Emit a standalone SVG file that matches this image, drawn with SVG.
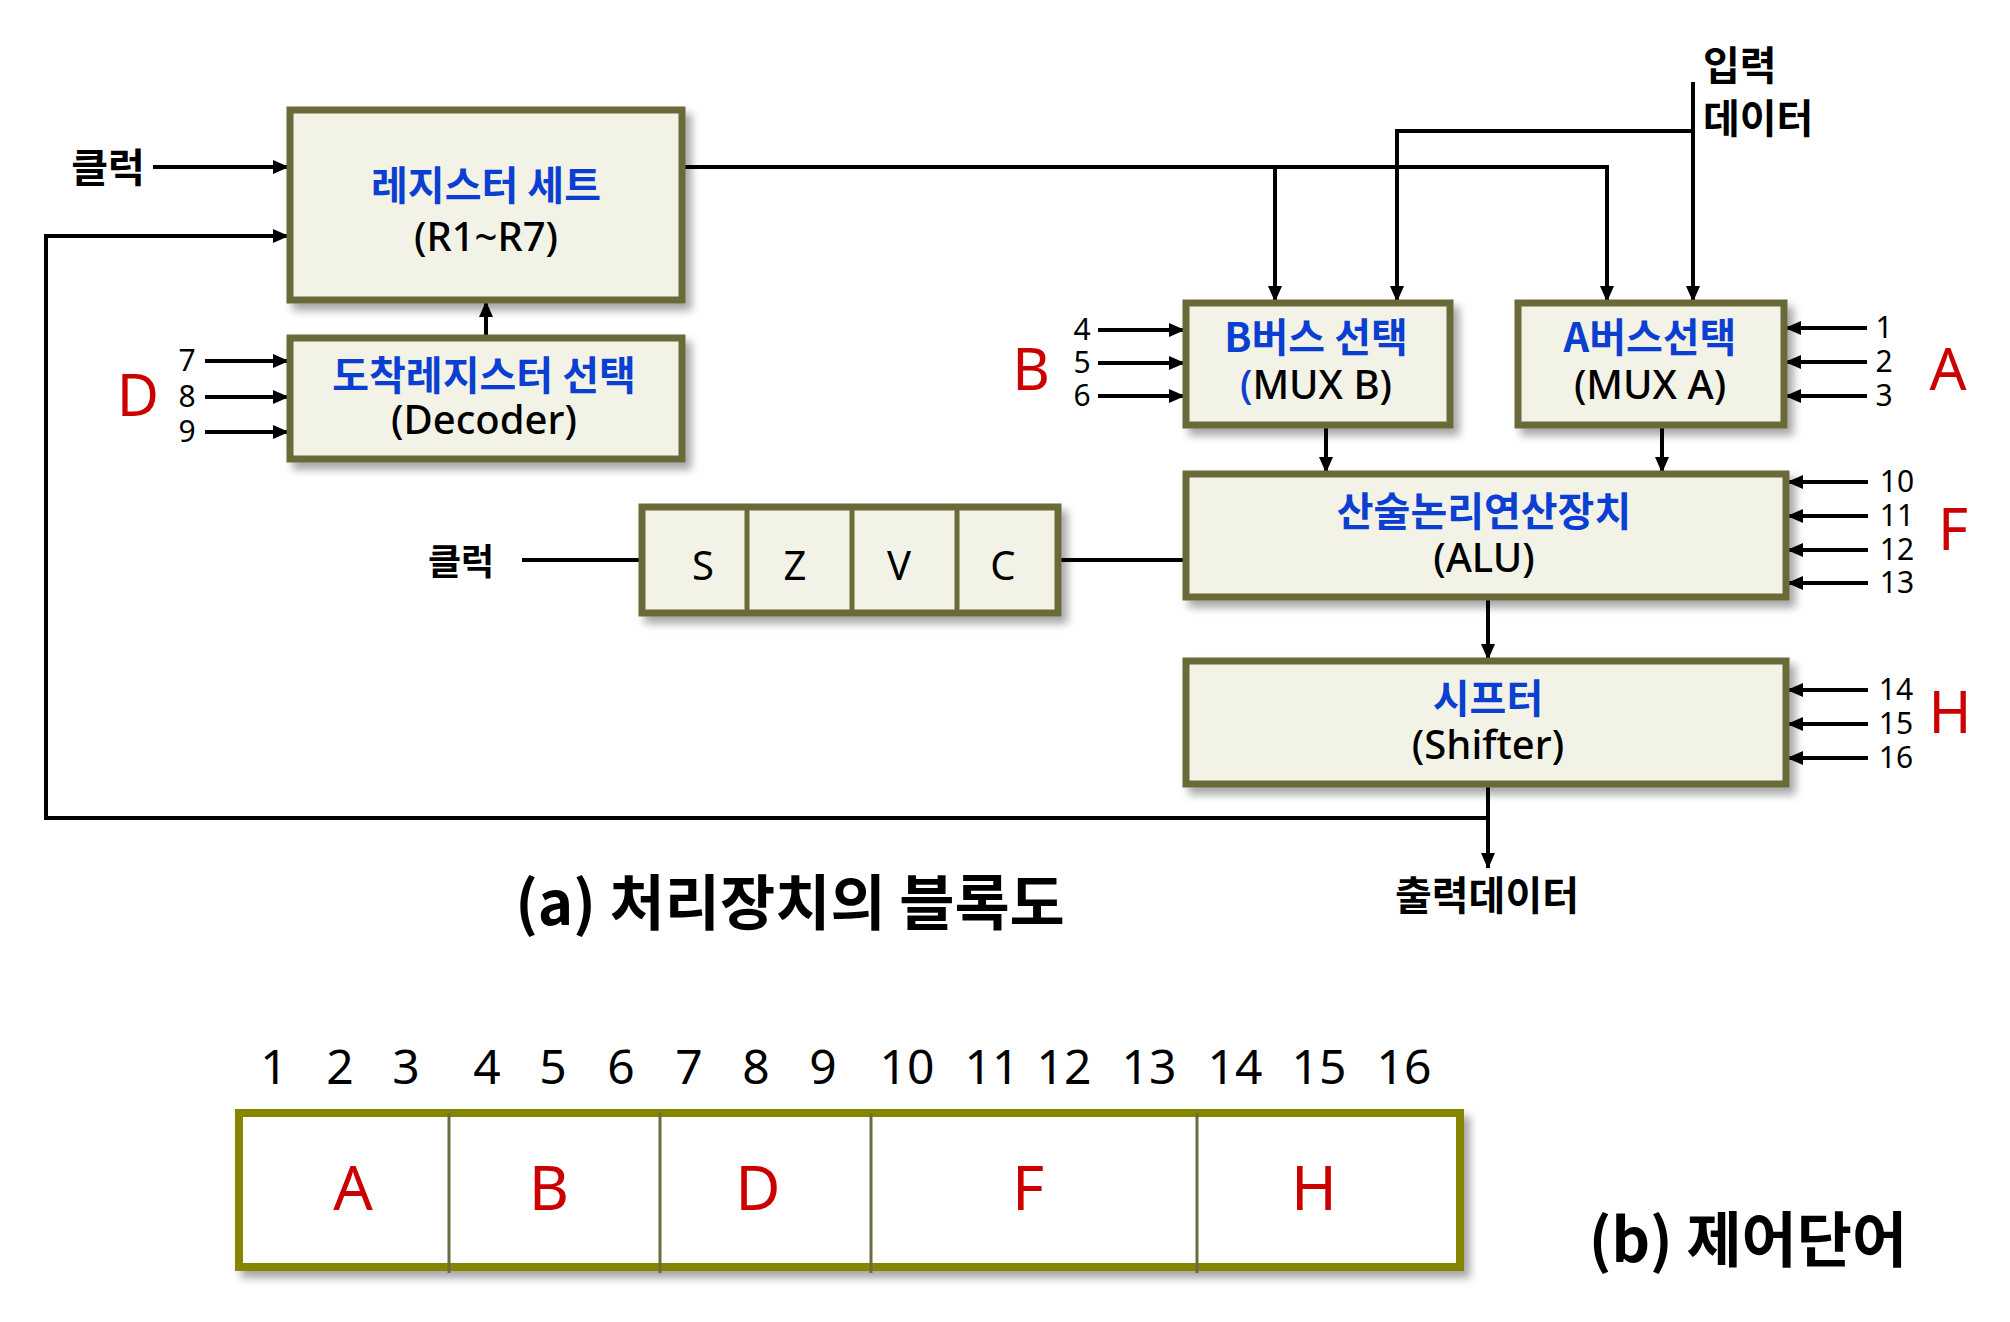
<svg xmlns="http://www.w3.org/2000/svg" width="2010" height="1322" viewBox="0 0 2010 1322">
<defs>
<style>
.box{fill:#f3f2e7;stroke:#6b6b38;stroke-width:7}
.cw{fill:#ffffff;stroke:#858500;stroke-width:8}
.div{stroke:#6b6b40;stroke-width:3}
.ln{fill:none;stroke:#000;stroke-width:4}
.arr{fill:none;stroke:#000;stroke-width:4;marker-end:url(#ah)}
text{font-family:"Noto Sans CJK KR","Noto Sans",sans-serif;text-anchor:middle}
.kt{font-size:40px;font-weight:700;fill:#0b3fd1}
.et{font-size:40px;font-weight:500;fill:#000;font-family:"Noto Sans","Noto Sans CJK KR",sans-serif}
.lb{font-size:40px;font-weight:700;fill:#000}
.num{font-size:30px;fill:#000;font-family:"Noto Sans",sans-serif}
.red{font-size:58px;fill:#cc0000;font-family:"Noto Sans",sans-serif}
.flag{font-size:40px;fill:#000;font-family:"Noto Sans",sans-serif}
.cap{font-size:60px;font-weight:700;fill:#000}
.cnum{font-size:48px;fill:#000;font-family:"Noto Sans",sans-serif}
.cred{font-size:62px;fill:#cc0000;font-family:"Noto Sans",sans-serif}
</style>
<marker id="ah" markerUnits="userSpaceOnUse" markerWidth="16" markerHeight="14" refX="15" refY="7" orient="auto">
<path d="M0,0 L16,7 L0,14 z" fill="#000"/>
</marker>
<filter id="sh" x="-10%" y="-10%" width="130%" height="140%">
<feDropShadow dx="6" dy="7" stdDeviation="4" flood-color="#000" flood-opacity="0.35"/>
</filter>
</defs>

<g id="connectors">
<path class="arr" d="M153,167 H288"/>
<path class="ln" d="M46,818 V236"/>
<path class="arr" d="M44,236 H288"/>
<path class="ln" d="M44,818 H1490"/>
<path class="arr" d="M486,336 V302"/>
<path class="arr" d="M205,361 H288"/>
<path class="arr" d="M205,397 H288"/>
<path class="arr" d="M205,432 H288"/>
<path class="ln" d="M684,167 H1607"/>
<path class="arr" d="M1607,165 V301"/>
<path class="arr" d="M1275,167 V301"/>
<path class="arr" d="M1693,82 V301"/>
<path class="ln" d="M1693,131 H1397"/>
<path class="arr" d="M1397,129 V301"/>
<path class="arr" d="M1098,330 H1184"/>
<path class="arr" d="M1098,363 H1184"/>
<path class="arr" d="M1098,396 H1184"/>
<path class="arr" d="M1867,328 H1786"/>
<path class="arr" d="M1867,362 H1786"/>
<path class="arr" d="M1867,396 H1786"/>
<path class="arr" d="M1326,427 V472"/>
<path class="arr" d="M1662,427 V472"/>
<path class="arr" d="M1868,482 H1788"/>
<path class="arr" d="M1868,516 H1788"/>
<path class="arr" d="M1868,550 H1788"/>
<path class="arr" d="M1868,583 H1788"/>
<path class="ln" d="M522,560 H642"/>
<path class="ln" d="M1058,560 H1186"/>
<path class="arr" d="M1488,599 V659"/>
<path class="arr" d="M1868,690 H1788"/>
<path class="arr" d="M1868,724 H1788"/>
<path class="arr" d="M1868,758 H1788"/>
<path class="arr" d="M1488,786 V868"/>
</g>

<g id="register-set">
<rect class="box" x="290" y="110" width="392" height="190" filter="url(#sh)"/>
<text class="kt" x="486" y="200">레지스터 세트</text>
<text class="et" x="486" y="251">(R1~R7)</text>
</g>

<g id="decoder">
<rect class="box" x="290" y="338" width="392" height="121" filter="url(#sh)"/>
<text class="kt" x="484" y="390">도착레지스터 선택</text>
<text class="et" x="484" y="434">(Decoder)</text>
</g>

<g id="mux-b">
<rect class="box" x="1186" y="303" width="264" height="122" filter="url(#sh)"/>
<text class="kt" x="1316" y="352">B버스 선택</text>
<text class="et" x="1316" y="399"><tspan fill="#0b3fd1">(</tspan>MUX B)</text>
</g>

<g id="mux-a">
<rect class="box" x="1518" y="303" width="266" height="122" filter="url(#sh)"/>
<text class="kt" x="1650" y="352">A버스선택</text>
<text class="et" x="1650" y="399">(MUX A)</text>
</g>

<g id="alu">
<rect class="box" x="1186" y="474" width="600" height="123" filter="url(#sh)"/>
<text class="kt" x="1484" y="526">산술논리연산장치</text>
<text class="et" x="1484" y="572">(ALU)</text>
</g>

<g id="shifter">
<rect class="box" x="1186" y="661" width="600" height="123" filter="url(#sh)"/>
<text class="kt" x="1488" y="713">시프터</text>
<text class="et" x="1488" y="759">(Shifter)</text>
</g>

<g id="flags">
<rect class="box" x="642" y="507" width="416" height="106" filter="url(#sh)"/>
<line class="box" x1="747" y1="510" x2="747" y2="610" style="stroke-width:5"/>
<line class="box" x1="852" y1="510" x2="852" y2="610" style="stroke-width:5"/>
<line class="box" x1="957" y1="510" x2="957" y2="610" style="stroke-width:5"/>
<text class="flag" x="703" y="580">S</text>
<text class="flag" x="795" y="580">Z</text>
<text class="flag" x="899" y="580">V</text>
<text class="flag" x="1003" y="580">C</text>
</g>

<g id="labels">
<text class="lb" x="108" y="182">클럭</text>
<text class="lb" x="461" y="575" style="font-size:36px">클럭</text>
<text class="lb" x="1703" y="80" style="text-anchor:start">입력</text>
<text class="lb" x="1703" y="133" style="text-anchor:start">데이터</text>
<text class="lb" x="1487" y="910">출력데이터</text>
<text class="red" x="138" y="416">D</text>
<text class="num" x="187" y="371">7</text>
<text class="num" x="187" y="407">8</text>
<text class="num" x="187" y="442">9</text>
<text class="red" x="1031" y="390">B</text>
<text class="num" x="1082" y="340">4</text>
<text class="num" x="1082" y="373">5</text>
<text class="num" x="1082" y="406">6</text>
<text class="red" x="1948" y="390">A</text>
<text class="num" x="1884" y="338">1</text>
<text class="num" x="1884" y="372">2</text>
<text class="num" x="1884" y="406">3</text>
<text class="red" x="1953" y="550">F</text>
<text class="num" x="1897" y="492">10</text>
<text class="num" x="1897" y="526">11</text>
<text class="num" x="1897" y="560">12</text>
<text class="num" x="1897" y="593">13</text>
<text class="red" x="1950" y="733">H</text>
<text class="num" x="1896" y="700">14</text>
<text class="num" x="1896" y="734">15</text>
<text class="num" x="1896" y="768">16</text>
<text class="cap" x="790" y="925">(a) 처리장치의 블록도</text>
</g>

<g id="control-word">
<rect class="cw" x="239" y="1113" width="1221" height="154" filter="url(#sh)"/>
<line class="div" x1="449" y1="1113" x2="449" y2="1273"/>
<line class="div" x1="660" y1="1113" x2="660" y2="1273"/>
<line class="div" x1="871" y1="1113" x2="871" y2="1273"/>
<line class="div" x1="1197" y1="1113" x2="1197" y2="1273"/>
<text class="cred" x="353" y="1210">A</text>
<text class="cred" x="549" y="1210">B</text>
<text class="cred" x="758" y="1210">D</text>
<text class="cred" x="1028" y="1210">F</text>
<text class="cred" x="1314" y="1210">H</text>
<text class="cnum" x="274" y="1084">1</text>
<text class="cnum" x="340" y="1084">2</text>
<text class="cnum" x="406" y="1084">3</text>
<text class="cnum" x="487" y="1084">4</text>
<text class="cnum" x="553" y="1084">5</text>
<text class="cnum" x="621" y="1084">6</text>
<text class="cnum" x="689" y="1084">7</text>
<text class="cnum" x="756" y="1084">8</text>
<text class="cnum" x="823" y="1084">9</text>
<text class="cnum" x="907" y="1084">10</text>
<text class="cnum" x="992" y="1084">11</text>
<text class="cnum" x="1064" y="1084">12</text>
<text class="cnum" x="1149" y="1084">13</text>
<text class="cnum" x="1235" y="1084">14</text>
<text class="cnum" x="1319" y="1084">15</text>
<text class="cnum" x="1404" y="1084">16</text>
<text class="cap" x="1748" y="1262">(b) 제어단어</text>
</g>
</svg>
